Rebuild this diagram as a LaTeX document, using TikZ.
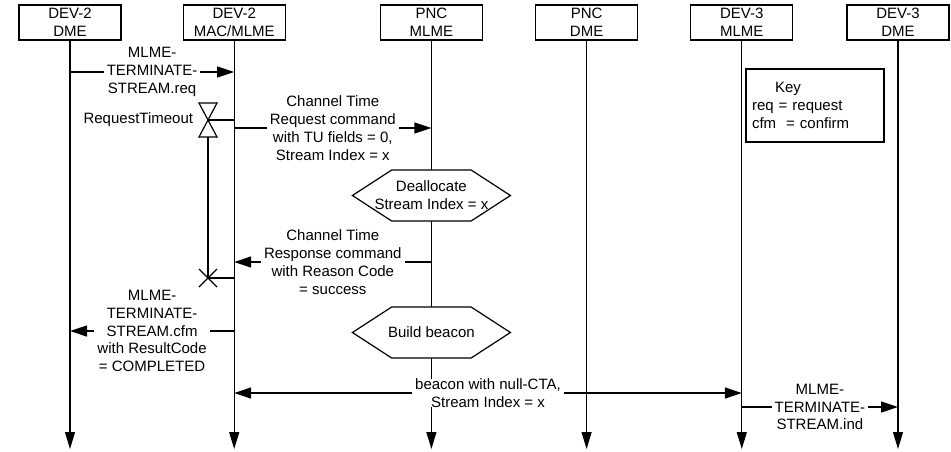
\documentclass[tikz,border=0pt]{standalone}
\usepackage{fontspec}
\setmainfont{Liberation Sans}
\usetikzlibrary{arrows.meta,positioning,shapes.symbols}
\tikzset{
  lifebox/.style = {
    rectangle,
    draw,
    align=center,
    inner sep=0pt,
    minimum width=102pt,
    minimum height=35pt
  },
  lifeline/.style = {
    -{Triangle[length=17pt,width=10pt]}
  },
  msgarrow/.style = {
    -{Triangle[length=17pt,width=11pt]}
  },
  msglabel/.style = {
    fill=white,
    align=center,
    inner xsep=3pt,
    inner ysep=0pt
  },
  hexstep/.style = {
    signal,
    signal to=west and east,
    signal pointer angle=66,
    draw,
    fill=white,
    inner sep=0pt,
    minimum width=158pt,
    minimum height=51pt
  },
  keybox/.style = {
    rectangle,
    draw,
    align=left,
    text width=126pt,
    inner xsep=6pt,
    minimum height=73pt
  }
}

\begin{document}
\begin{tikzpicture}[x=1pt,y=-1pt,line width=1.2pt,
    font=\fontsize{15pt}{17.8pt}\selectfont]
    \useasboundingbox (0,0) rectangle (951,451);
    % lifeline heads
    \node[lifebox] (dmeA) at (70,22.5) {DEV-2\\DME};
    \node[lifebox, right=61pt of dmeA] (macA) {DEV-2\\MAC/MLME};
    \node[lifebox, right=94pt of macA] (pncM) {PNC\\MLME};
    \node[lifebox, right=52pt of pncM] (pncD) {PNC\\DME};
    \node[lifebox, right=52pt of pncD] (mlmeC) {DEV-3\\MLME};
    \node[lifebox, right=53pt of mlmeC] (dmeC) {DEV-3\\DME};
    % message rows
    \coordinate (bot) at (0,449);
    \coordinate (mReq) at (0,72);
    \coordinate (mCtReq) at (0,128);
    \coordinate (mCtRsp) at (0,262);
    \coordinate (mCfm) at (0,331);
    \coordinate (mBcn) at (0,393);
    \coordinate (mInd) at (0,407);
    \coordinate (tmr) at (208,120);
    \coordinate (tmx) at (208,278);
    \foreach \n in {dmeA,macA,pncM,pncD,mlmeC,dmeC}
      \draw[lifeline] (\n) -- (\n |- bot);
    \node[keybox] (key) at (815,105.5) {\hspace*{23pt}Key\\req = request\\cfm\ \ = confirm};
    \node[hexstep, label={[align=center]center:{Deallocate\\Stream Index = x}}] (dealloc) at (pncM |- 0,195.5) {};
    \node[hexstep, label={center:Build beacon}] (build) at (pncM |- 0,332.5) {};
    % timer
    \draw ([shift={(-9,-17)}]tmr) -- ([shift={(9,-17)}]tmr) -- ([shift={(-9,17)}]tmr)
      -- ([shift={(9,17)}]tmr) -- cycle;
    \draw (tmr) -- (macA |- tmr);
    \draw ([shift={(0,17)}]tmr) -- (tmx);
    \draw ([shift={(-9,-9)}]tmx) -- ([shift={(9,9)}]tmx);
    \draw ([shift={(-9,9)}]tmx) -- ([shift={(9,-9)}]tmx);
    \draw (tmx) -- (macA |- tmx);
    \node[anchor=east] (tmrlbl) at ([shift={(-11,0)}]tmr) {RequestTimeout};
    % messages
    \draw[msgarrow] (dmeA |- mReq) -- node[msglabel] (lReq) {MLME-\\TERMINATE-\\STREAM.req} (macA |- mReq);
    \draw[msgarrow] (macA |- mCtReq) -- node[msglabel] (lCtReq) {Channel Time\\Request command\\with TU fields = 0,\\Stream Index = x} (pncM |- mCtReq);
    \draw[msgarrow] (pncM |- mCtRsp) -- node[msglabel] (lCtRsp) {Channel Time\\Response command\\with Reason Code\\= success} (macA |- mCtRsp);
    \draw[msgarrow] (macA |- mCfm) -- node[msglabel] (lCfm) {MLME-\\TERMINATE-\\STREAM.cfm\\with ResultCode\\= COMPLETED} (dmeA |- mCfm);
    \draw[{Triangle[length=17pt,width=11pt]}-{Triangle[length=17pt,width=11pt]}] (macA |- mBcn) -- node[msglabel] (lBcn) {beacon with null-CTA,\\Stream Index = x} (mlmeC |- mBcn);
    \draw[msgarrow] (mlmeC |- mInd) -- node[msglabel] (lInd) {MLME-\\TERMINATE-\\STREAM.ind} (dmeC |- mInd);
\end{tikzpicture}
\end{document}
